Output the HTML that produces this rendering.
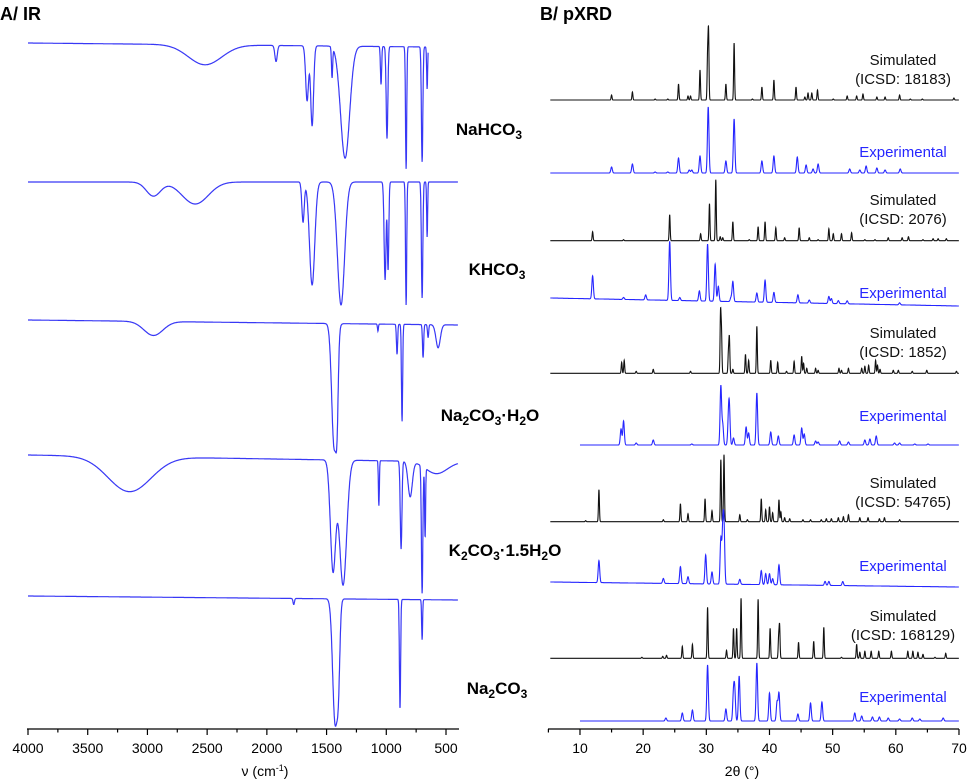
<!DOCTYPE html>
<html><head><meta charset="utf-8"><style>
html,body{margin:0;padding:0;background:#fff;}
svg{display:block;font-family:"Liberation Sans",Arial,sans-serif;}
</style></head><body>
<svg id="fig" width="969" height="783" viewBox="0 0 969 783">
<text x="0" y="20" font-size="18" font-weight="bold">A/ IR</text>
<text x="540" y="20" font-size="18" font-weight="bold">B/ pXRD</text>
<g id="ir"></g>
<g id="xrd"></g>
</svg>
<script>
// ===== IR data (wavenumber cm-1, band depth, band sigma) =====
const irNames = ["NaHCO3","KHCO3","Na2CO3·H2O","K2CO3·1.5H2O","Na2CO3"];
const irBase = [[43,47],[182,182],[320,325],[455,462],[596,600]];
const irEnd = [650,400,400,400,400];
const irCenters = [
 [2518,1923,1663,1621,1454,1345,1044,994,834,700,658],
 [2950,2600,1697,1621,1379,1010,985,834,700,658],
 [2950,1437,1412,1070,910,868,692,650,566],
 [3150,1446,1362,1062,876,800,700,675,580],
 [1775,1429,1400,885,700]
];
const irDepths = [
 [20,16,55,80,30,112,38,92,122,115,42],
 [14,22,40,103,123,98,88,123,116,55],
 [14,123,60,7,30,97,33,13,23],
 [35,110,125,45,88,35,127,70,12],
 [6,123,60,110,40]
];
const irSigmas = [
 [140,10,12,12,5,38,5,7,5,6,4],
 [60,110,10,22,30,8,6,5,6,4],
 [80,20,10,4,5,5,5,5,18],
 [180,22,30,4,7,18,6,4,90],
 [6,20,12,5,4]
];
// ===== XRD data (2theta deg, peak height) =====
const xrdLabels = [["Simulated","(ICSD: 18183)"],["Experimental"],["Simulated","(ICSD: 2076)"],["Experimental"],["Simulated","(ICSD: 1852)"],["Experimental"],["Simulated","(ICSD: 54765)"],["Experimental"],["Simulated","(ICSD: 168129)"],["Experimental"]];
const xrdBase = [[100,100],[173,173],[240.7,240.7],[298,306],[373.3,373.3],[445,445],[521.7,521.7],[582,587],[658.3,658.3],[721,721]];
const xrdStart = [5.3,5.3,5.3,5.3,5.3,10,5.3,5.3,5.3,10];
const xrdPos = [
 [15.0,18.3,21.9,23.9,25.6,27.1,27.5,29.0,30.2,30.35,33.1,34.4,37.3,38.8,40.7,44.2,45.6,46.1,46.7,47.6,50.1,52.3,53.8,54.8,57.0,58.3,60.6,62.3,64.2,69.2],
 [15.0,18.3,21.9,23.9,25.6,27.3,27.7,29.0,30.3,33.1,34.4,38.8,40.7,44.4,45.8,46.9,47.7,52.7,54.3,55.3,57.0,58.3,60.7],
 [12.0,16.9,24.2,29.1,30.5,31.5,32.2,32.6,34.2,36.8,38.2,39.3,41.0,42.4,44.7,46.3,47.7,49.4,50.1,51.4,53.0,55.1,56.7,58.8,61.0,62.0,64.3,65.9,66.7,68.0],
 [12.0,16.9,20.4,24.2,25.8,28.9,30.2,31.4,31.9,33.9,34.2,38.0,39.3,40.7,44.5,46.3,49.4,49.8,50.9,52.3,60.6],
 [16.6,17.0,18.9,21.6,27.5,32.25,32.4,33.5,33.65,34.2,36.2,36.7,38.0,40.2,41.3,42.7,43.9,45.1,45.4,45.9,47.3,47.7,51.0,51.4,52.5,54.6,55.1,55.7,56.8,57.1,57.5,59.6,60.4,62.6,64.9,69.6],
 [16.5,16.9,18.9,21.6,27.7,32.3,32.6,33.5,33.65,34.3,36.3,36.7,38.0,40.2,41.4,43.9,45.1,45.5,47.3,47.7,51.1,52.5,55.1,55.9,56.9,59.8,60.6,63.0,65.1],
 [10.9,13.0,23.2,25.9,27.1,29.8,30.9,32.3,32.8,35.3,36.5,38.7,39.4,40.0,40.5,41.5,41.8,42.4,43.2,45.3,46.5,48.2,49.0,49.8,50.9,51.7,52.5,54.3,55.6,57.4,58.2,60.6],
 [13.0,23.2,25.9,27.1,29.9,30.9,32.3,32.6,32.8,35.3,38.7,39.4,40.0,40.5,41.5,48.8,49.4,51.6],
 [19.8,23.1,23.7,26.2,27.8,30.2,33.2,34.3,34.8,35.5,38.2,40.1,41.45,41.6,44.6,47.0,48.6,51.4,53.8,54.3,55.1,56.1,57.3,59.3,61.9,62.7,63.5,64.3,66.2,67.9],
 [23.6,26.2,27.8,30.2,33.1,34.3,34.5,35.2,38.0,40.0,41.2,41.5,44.5,46.5,48.3,53.5,54.6,56.3,57.4,58.8,60.6,62.6,63.8,67.5]
];
const xrdInt = [
 [5,8,1,1,16,4,4,30,43,67,16,57,1,13,20,13,3,7,7,10,1,4,4,6,3,3,5,1,1,2],
 [6,9,1,1,15,3,3,17,66,12,54,12,17,16,8,4,9,4,3,7,5,3,4],
 [9,1,26,7,37,61,4,3,19,1,14,19,13,3,13,3,1,12,7,7,8,1,1,3,3,4,1,2,2,2],
 [23,2,5,59,3,10,57,37,15,4,20,9,22,10,8,3,7,5,3,3,2],
 [11,13,2,4,2,59,40,20,35,4,19,13,47,13,11,2,12,17,10,5,5,3,5,3,5,5,7,8,13,8,4,3,3,2,3,2],
 [16,24,2,5,1,59,20,22,34,7,18,12,52,13,9,10,17,11,4,3,4,3,5,6,9,2,2,1,1],
 [1,32,2,18,8,23,11,62,67,7,2,23,12,15,9,22,10,4,3,2,2,2,3,3,4,5,7,4,4,3,4,2],
 [22,5,17,7,29,12,45,50,55,5,14,11,11,6,20,4,4,4],
 [1,2,3,12,14,51,8,30,30,60,59,30,20,32,16,17,31,1,14,6,7,7,7,7,7,7,6,4,1,5],
 [3,8,11,56,12,27,29,45,58,28,19,28,7,18,19,8,5,4,4,3,2,3,2,3]
];
const irTicks = [4000,3500,3000,2500,2000,1500,1000,500];
const xrdTicks = [10,20,30,40,50,60,70];

const NS="http://www.w3.org/2000/svg";
function mk(tag, attrs, parent){const e=document.createElementNS(NS,tag);for(const k in attrs)e.setAttribute(k,attrs[k]);parent.appendChild(e);return e;}
const ir=document.getElementById('ir'), xrd=document.getElementById('xrd');

// IR axis
const irX = wn => 28 + (4000-wn)*0.11943;
const axY = 729;
let a = mk('line',{x1:27,y1:axY,x2:459,y2:axY,stroke:'#000','stroke-width':1.3},ir);
 
for(let w=4000; w>=400; w-=250){
  const major = w%500===0;
  const t = mk('line',{x1:irX(w),y1:axY,x2:irX(w),y2:axY+(major?6:3.5),stroke:'#000','stroke-width':1.2},ir);
   
}
irTicks.forEach(w=>{
  const t=mk('text',{x:irX(w),y:753,'font-size':14,'text-anchor':'middle'},ir); t.textContent=w;
   
});
let ttl=mk('text',{x:265,y:776,'font-size':14,'text-anchor':'middle'},ir);
ttl.innerHTML='ν (cm<tspan dy="-5" font-size="9">-1</tspan><tspan dy="5">)</tspan>';
 

// IR spectra
irNames.forEach((n,i)=>{
  let d='';
  for(let wn=4000; wn>=irEnd[i]; wn-=2){
    const f=(4000-wn)/(4000-irEnd[i]);
    let y=irBase[i][0]+(irBase[i][1]-irBase[i][0])*f;
    irCenters[i].forEach((c,k)=>{const s=irSigmas[i][k];y+=irDepths[i][k]*Math.exp(-((wn-c)*(wn-c))/(2*s*s));});
    d+=(d?'L':'M')+irX(wn).toFixed(1)+' '+y.toFixed(1);
  }
  const p=mk('path',{d:d,fill:'none',stroke:'#3838f5','stroke-width':1.2},ir);
   
});
// IR compound labels
const lbl=[[489,135,'NaHCO<tspan dy="4" font-size="12">3</tspan>'],
 [497,275,'KHCO<tspan dy="4" font-size="12">3</tspan>'],
 [490,421,'Na<tspan dy="4" font-size="12">2</tspan><tspan dy="-4">CO</tspan><tspan dy="4" font-size="12">3</tspan><tspan dy="-4">·H</tspan><tspan dy="4" font-size="12">2</tspan><tspan dy="-4">O</tspan>'],
 [505,556,'K<tspan dy="4" font-size="12">2</tspan><tspan dy="-4">CO</tspan><tspan dy="4" font-size="12">3</tspan><tspan dy="-4">·1.5H</tspan><tspan dy="4" font-size="12">2</tspan><tspan dy="-4">O</tspan>'],
 [497,694,'Na<tspan dy="4" font-size="12">2</tspan><tspan dy="-4">CO</tspan><tspan dy="4" font-size="12">3</tspan>']];
lbl.forEach((l,i)=>{const t=mk('text',{x:l[0],y:l[1],'font-size':17,'font-weight':'bold','text-anchor':'middle'},ir);t.innerHTML=l[2];
   });

// XRD axis
const xX = t => 548.4 + (t-5)*6.3167;
a=mk('line',{x1:548,y1:axY,x2:959,y2:axY,stroke:'#000','stroke-width':1.3},xrd);
 
for(let t=5;t<=70;t+=5){
  const major=t%10===0;
  const e=mk('line',{x1:xX(t),y1:axY,x2:xX(t),y2:axY+(major?6:3.5),stroke:'#000','stroke-width':1.2},xrd);
   
}
xrdTicks.forEach(t=>{const e=mk('text',{x:xX(t),y:753,'font-size':14,'text-anchor':'middle'},xrd);e.textContent=t;
   });
ttl=mk('text',{x:742,y:776,'font-size':14,'text-anchor':'middle'},xrd); ttl.textContent='2θ (°)';
 

// XRD patterns
const labY=[[65,84],[157],[205,224],[298],[338,357],[421],[488,507],[571],[621,640],[702]];
xrdPos.forEach((pos,i)=>{
  const exp = i%2===1;
  const sg = exp?0.12:0.075;
  let d='';
  for(let t=xrdStart[i]; t<=70; t+=0.02){
    const f=(t-xrdStart[i])/(70-xrdStart[i]);
    let y=xrdBase[i][0]+(xrdBase[i][1]-xrdBase[i][0])*f;
    pos.forEach((c,k)=>{const dd=t-c; if(Math.abs(dd)<1) y-=xrdInt[i][k]*Math.exp(-dd*dd/(2*sg*sg));});
    d+=(d?'L':'M')+xX(t).toFixed(2)+' '+y.toFixed(1);
  }
  const p=mk('path',{d:d,fill:'none',stroke:exp?'#2626ff':'#111','stroke-width':1.1},xrd);
   
  xrdLabels[i].forEach((s,j)=>{
    const e=mk('text',{x:903,y:labY[i][j],'font-size':15,'text-anchor':'middle',fill:exp?'#2626ff':'#111'},xrd);
    e.textContent=s;
     
  });
});
</script>
</body></html>
